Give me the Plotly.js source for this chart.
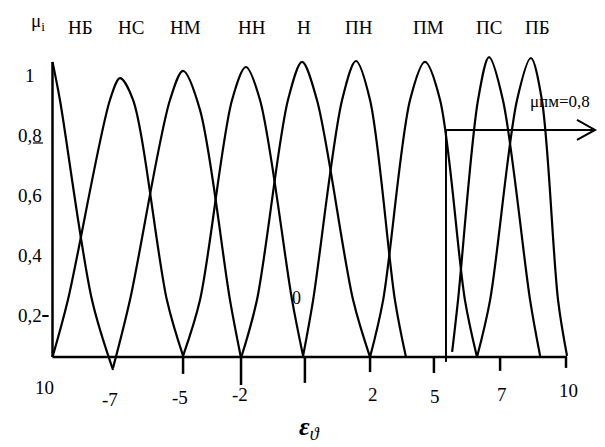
<!DOCTYPE html>
<html><head><meta charset="utf-8">
<script src="https://cdn.plot.ly/plotly-3.0.1.min.js"></script>
<style>html,body{margin:0;padding:0;background:#fff}</style>
</head><body><div id="chart" style="width:605px;height:447px"></div>
<script>
// ---- data (x in the drawing's ε units, y = μ) ----
const setNames = ["НБ","НС","НМ","НН","Н","ПН","ПМ","ПС","ПБ"];
const nbX = [-10, -9.71, -8.46, -7.64];
const nbY = [1.047, 0.92, 0.253, 0.02];
const nsX = [-10, -9.40, -7.76, -7.37, -6.86, -5.54, -4.91];
const nsY = [0.063, 0.253, 0.92, 0.993, 0.92, 0.253, 0.067];
const nmX = [-7.64, -6.98, -5.42, -4.91, -4.25, -3.08, -2.65];
const nmY = [0.027, 0.253, 0.92, 1.017, 0.887, 0.253, 0.06];
const nnX = [-4.91, -4.25, -3.00, -2.46, -1.91, -0.66, -0.23];
const nnY = [0.067, 0.253, 0.92, 1.03, 0.92, 0.253, 0.067];
const nX  = [-2.65, -2.03, -0.82, -0.27, 0.31, 1.72, 2.38];
const nY  = [0.06, 0.253, 0.92, 1.047, 0.92, 0.253, 0.063];
const pnX = [-0.23, 0.16, 1.29, 1.83, 2.38, 3.35, 3.78];
const pnY = [0.067, 0.253, 0.92, 1.05, 0.92, 0.253, 0.063];
const pmX = [2.38, 2.89, 3.94, 4.52, 5.11, 6.08, 6.55];
const pmY = [0.063, 0.253, 0.92, 1.047, 0.92, 0.253, 0.063];
const psX = [5.58, 5.81, 6.59, 7.02, 7.56, 8.62, 9.01];
const psY = [0.08, 0.253, 0.92, 1.063, 0.92, 0.253, 0.067];
const pbX = [6.55, 7.06, 8.11, 8.65, 9.08, 9.71, 10.06];
const pbY = [0.063, 0.253, 0.92, 1.06, 0.92, 0.253, 0.067];
const curvesX = [nbX, nsX, nmX, nnX, nX, pnX, pmX, psX, pbX];
const curvesY = [nbY, nsY, nmY, nnY, nY, pnY, pmY, psY, pbY];

// axis extents and ticks as drawn
const axisXStart = -10, axisXEnd = 10.06;
const baseMu = 0.063, axisTopMu = 1.047;
const tickMarkX = [-4.91, -2.65, -0.16, 2.38, 4.87, 7.45, 10.02];
const xLabelText = ["10","-7","-5","-2","2","5","7","10"];
const xLabelPos = [-10.3, -7.76, -5.03, -2.69, 2.5, 4.91, 7.52, 10.1];
const yLabelText = ["1","0,8","0,6","0,4","0,2"];
const yLabelVal = [1, 0.8, 0.6, 0.4, 0.2];
// ПМ cut
const pmCutX = 5.34, pmCutMu = 0.82;
const pmCutText = "μпм=0,8";

// ---- styles / layout positions ----
const tickEndY = [0.007, -0.03, -0.023, 0.013, 0.01, 0.017, 0.027];
const xLabelY = [-0.04, -0.08, -0.073, -0.063, -0.063, -0.07, -0.063, -0.05];
const setLabelX = [-8.89, -6.94, -4.83, -2.22, -0.18, 1.95, 4.64, 7.02, 8.89];
const FONT = "'Liberation Serif', 'Times New Roman', serif";

const traces = curvesX.map((xs, i) => ({
  x: xs, y: curvesY[i], mode: "lines", type: "scatter", name: setNames[i],
  line: {color: "#000", width: 2.2, shape: "spline", smoothing: 0.9},
  hoverinfo: "skip"
}));

const shapes = [];
const ln = (x0,y0,x1,y1,w) => ({type:"line", xref:"x", yref:"y", x0, y0, x1, y1, line:{color:"#000", width:w}});
shapes.push(ln(axisXStart, baseMu, axisXEnd, baseMu, 2.5));
shapes.push(ln(axisXStart, baseMu, axisXStart, axisTopMu, 2.5));
tickMarkX.forEach((t, i) => shapes.push(ln(t, baseMu, t, tickEndY[i], 2.5)));
shapes.push(ln(-10.4, 0.2, -10.15, 0.2, 2));            // small y tick at 0,2
shapes.push(ln(pmCutX, 0.047, pmCutX, pmCutMu, 2));   // vertical ПМ line
shapes.push(ln(pmCutX, pmCutMu, 11.15, pmCutMu, 2));  // horizontal arrow
shapes.push({type:"path", xref:"x", yref:"y", xsizemode:"pixel", ysizemode:"pixel",
  xanchor: 11.15, yanchor: pmCutMu, path:"M -18,10 L 0,0 L -18,-10",
  line:{color:"#000", width:2}});
shapes.push({type:"line", xref:"x", yref:"y", xsizemode:"pixel", ysizemode:"pixel",
  xanchor: -10.88, yanchor: 0.8, x0: 3, x1: 13, y0: -7, y1: -7, line:{color:"#000", width:1.2}});

const ann = [];
const txt = (x, y, text, size, extra) => Object.assign({x, y, xref:"x", yref:"y", text, showarrow:false,
  xanchor:"center", yanchor:"middle", font:{family:FONT, size, color:"#000"}}, extra || {});
setNames.forEach((n, i) => ann.push(txt(setLabelX[i], 1.16, n, 19)));
xLabelText.forEach((t, i) => ann.push(txt(xLabelPos[i], xLabelY[i], t, 19)));
yLabelText.forEach((t, i) => ann.push(txt(-10.88, yLabelVal[i], t, 19)));
ann.push(txt(-0.47, 0.26, "0", 18));
ann.push(txt(-10.55, 1.18, "μ<sub>i</sub>", 19));
ann.push(txt(9.78, 0.915, pmCutText, 17));
ann.push(txt(0, -0.175, "<b><i>ε</i></b><sub><i>ϑ</i></sub>", 26));

const layout = {
  width: 605, height: 447, margin: {l:0, r:0, t:0, b:0},
  paper_bgcolor: "#fff", plot_bgcolor: "#fff", showlegend: false,
  xaxis: {visible:false, range:[-12.047, 11.540], fixedrange:true},
  yaxis: {visible:false, range:[-0.2367, 1.2533], fixedrange:true},
  shapes, annotations: ann
};
Plotly.newPlot("chart", traces, layout, {displayModeBar:false, staticPlot:true});
</script></body></html>
